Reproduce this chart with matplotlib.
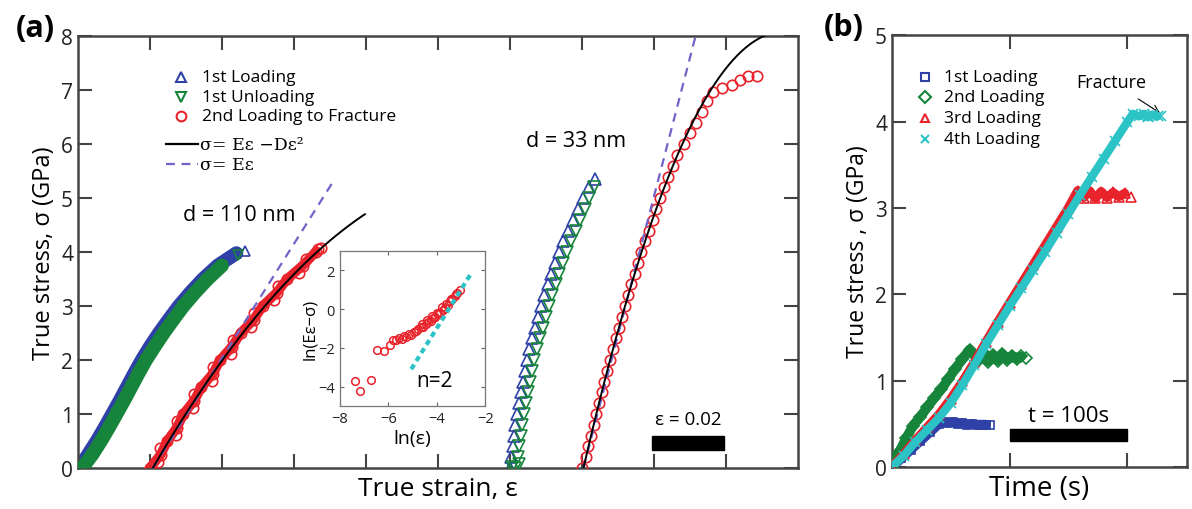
import matplotlib
matplotlib.use("Agg")
import matplotlib.pyplot as plt
import numpy as np
from matplotlib.patches import Rectangle

plt.rcParams['font.family'] = ['Open Sans', 'DejaVu Sans']

# ---------------- panel (a): stress-strain data ----------------
# d = 110 nm
blue110_strain = [0.0004, 0.0028, 0.0052, 0.0074, 0.0095, 0.0116, 0.0136, 0.0156, 0.0177,
                  0.0200, 0.0225, 0.0252, 0.0280, 0.0312, 0.0347, 0.0388, 0.0440, 0.0465]
blue110_stress = [0.0, 0.25, 0.5, 0.75, 1.0, 1.25, 1.5, 1.75, 2.0,
                  2.25, 2.5, 2.75, 3.0, 3.25, 3.5, 3.75, 3.98, 4.02]
green110_strain = [0.0012, 0.0040, 0.0064, 0.0086, 0.0107, 0.0128, 0.0148, 0.0168, 0.0189,
                   0.0213, 0.0238, 0.0265, 0.0293, 0.0325, 0.0360, 0.0400, 0.0445]
green110_stress = [0.0, 0.25, 0.5, 0.75, 1.0, 1.25, 1.5, 1.75, 2.0,
                   2.25, 2.5, 2.75, 3.0, 3.25, 3.5, 3.75, 3.95]
red110_strain = [0.0200, 0.0230, 0.0248, 0.0275, 0.0293, 0.0323, 0.0343, 0.0375, 0.0395,
                 0.0428, 0.0452, 0.0488, 0.0513, 0.0552, 0.0581, 0.0624, 0.0660, 0.0675,
                 0.0223, 0.0229, 0.0273, 0.0274, 0.0320, 0.0323, 0.0371, 0.0375, 0.0424,
                 0.0430, 0.0482, 0.0490, 0.0544, 0.0556, 0.0614, 0.0632, 0.0668]
red110_stress = [0.0, 0.25, 0.5, 0.75, 1.0, 1.25, 1.5, 1.75, 2.0,
                 2.25, 2.5, 2.75, 3.0, 3.25, 3.5, 3.75, 4.0, 4.08,
                 0.12, 0.37, 0.62, 0.87, 1.12, 1.37, 1.62, 1.87, 2.12,
                 2.37, 2.62, 2.87, 3.12, 3.37, 3.62, 3.87, 4.05]

# d = 33 nm
blue33_strain = [0.1200, 0.1204, 0.1208, 0.1211, 0.1215, 0.1219, 0.1224, 0.1230, 0.1235, 0.1241,
                 0.1247, 0.1254, 0.1262, 0.1270, 0.1278, 0.1286, 0.1295, 0.1305, 0.1315, 0.1325,
                 0.1336, 0.1348, 0.1361, 0.1374, 0.1388, 0.1403, 0.1420, 0.1436]
blue33_stress = [0.0, 0.2, 0.4, 0.6, 0.8, 1.0, 1.2, 1.4, 1.6, 1.8,
                 2.0, 2.2, 2.4, 2.6, 2.8, 3.0, 3.2, 3.4, 3.6, 3.8,
                 4.0, 4.2, 4.4, 4.6, 4.8, 5.0, 5.2, 5.35]
green33_strain = [0.1205, 0.1215, 0.1225, 0.1222, 0.1226, 0.1230, 0.1234, 0.1239, 0.1244, 0.1249,
                  0.1255, 0.1261, 0.1268, 0.1275, 0.1283, 0.1291, 0.1299, 0.1308, 0.1317, 0.1327,
                  0.1337, 0.1347, 0.1358, 0.1370, 0.1382, 0.1395, 0.1408, 0.1420, 0.1432]
green33_stress = [0.02, 0.0, 0.08, 0.2, 0.4, 0.6, 0.8, 1.0, 1.2, 1.4,
                  1.6, 1.8, 2.0, 2.2, 2.4, 2.6, 2.8, 3.0, 3.2, 3.4,
                  3.6, 3.8, 4.0, 4.2, 4.4, 4.6, 4.8, 5.0, 5.2]
red33_strain = [0.1400, 0.1411, 0.1418, 0.1425, 0.1432, 0.1440, 0.1447, 0.1455, 0.1462, 0.1470,
                0.1478, 0.1486, 0.1494, 0.1502, 0.1511, 0.1519, 0.1528, 0.1537, 0.1546, 0.1556,
                0.1565, 0.1575, 0.1585, 0.1596, 0.1606, 0.1617, 0.1629, 0.1640, 0.1652, 0.1665,
                0.1683, 0.1700, 0.1716, 0.1732, 0.1748, 0.1764, 0.1789, 0.1817, 0.1839, 0.1861, 0.1886]
red33_stress = [0.0, 0.2, 0.4, 0.6, 0.8, 1.0, 1.2, 1.4, 1.6, 1.8,
                2.0, 2.2, 2.4, 2.6, 2.8, 3.0, 3.2, 3.4, 3.6, 3.8,
                4.0, 4.2, 4.4, 4.6, 4.8, 5.0, 5.2, 5.4, 5.6, 5.8,
                6.0, 6.2, 6.4, 6.6, 6.8, 6.96, 7.04, 7.09, 7.18, 7.27, 7.27]

# fit parameters (sigma = E*eps - D*eps^2, sigma = E*eps) per wire
E_fit110, D_fit110, E_lin110, eps0_110 = 115.0, 597.0, 106.0, 0.0208
E_fit33, D_fit33, E_lin33, eps0_33 = 290.0, 2600.0, 257.0, 0.1404

# inset: ln(E eps - sigma) vs ln(eps)
inset_lnstrain = [-7.38, -7.17, -6.73, -6.46, -6.17, -5.93, -5.80, -5.66, -5.55, -5.45,
                  -5.35, -5.25, -5.15, -5.05, -4.95, -4.85, -4.75, -4.65, -4.55, -4.45,
                  -4.35, -4.25, -4.15, -4.05, -3.95, -3.85, -3.75, -3.65, -3.55, -3.45,
                  -3.35, -3.25, -3.15, -3.05, -4.6, -4.4, -4.2, -4.0, -3.8, -3.6, -3.4, -3.2]
inset_lnres = [-3.71, -4.22, -3.66, -2.13, -2.18, -1.87, -1.60, -1.62, -1.50, -1.53,
               -1.40, -1.45, -1.30, -1.35, -1.18, -1.15, -1.05, -0.95, -0.90, -0.78,
               -0.68, -0.62, -0.48, -0.40, -0.25, -0.18, -0.05, 0.08, 0.22, 0.40,
               0.52, 0.66, 0.82, 1.00, -0.75, -0.55, -0.35, -0.20, 0.10, 0.25, 0.50, 0.80]
slope_line_x = [-5.05, -2.6]
slope_line_y = [-3.1, 1.8]

# ---------------- panel (b): stress vs time ----------------
t1 = [0, 8, 16, 24, 32, 40, 44, 48, 52, 56, 60, 64, 68, 72, 76, 80, 83]
s1 = [0.0, 0.10, 0.20, 0.30, 0.40, 0.50, 0.52, 0.51, 0.52, 0.50, 0.51, 0.49, 0.50, 0.49, 0.49, 0.49, 0.49]
t2 = [0, 6, 12, 18, 24, 30, 36, 42, 48, 54, 60, 66, 70, 74, 78, 82, 86, 90, 94, 98, 102, 106, 110, 114]
s2 = [0.0, 0.17, 0.33, 0.48, 0.58, 0.69, 0.80, 0.90, 1.02, 1.14, 1.25, 1.36, 1.30, 1.24, 1.32, 1.22,
      1.30, 1.23, 1.31, 1.24, 1.29, 1.25, 1.28, 1.26]
t3 = [0, 10, 20, 30, 40, 50, 60, 70, 80, 90, 100, 110, 120, 130, 140, 150, 158, 163, 168, 173,
      178, 183, 188, 193, 198, 203]
s3 = [0.0, 0.15, 0.31, 0.46, 0.61, 0.79, 0.99, 1.21, 1.45, 1.68, 1.90, 2.12, 2.34, 2.56, 2.78, 3.00,
      3.20, 3.12, 3.20, 3.11, 3.19, 3.12, 3.18, 3.13, 3.17, 3.13]
t4 = [0, 10, 20, 30, 40, 50, 60, 70, 80, 90, 100, 110, 120, 130, 140, 150, 160, 170, 180, 190,
      200, 205, 210, 214, 218, 222, 226, 229]
s4 = [0.0, 0.13, 0.29, 0.43, 0.57, 0.74, 0.95, 1.18, 1.42, 1.64, 1.86, 2.07, 2.28, 2.49, 2.71, 2.93,
      3.15, 3.36, 3.57, 3.78, 3.99, 4.09, 4.06, 4.09, 4.05, 4.08, 4.06, 4.06]

BLUE, GREEN, RED, CYAN = '#2f40a6', '#16843a', '#e8232b', '#2bc3c6'
PURPLE = '#7263c9'
FRAME = '#444444'


def band(ax, x, y, color, marker, lw, ms, z, thick=True, n_line=None):
    # dense data: thick line underneath + open markers on top
    if thick:
        n = n_line if n_line else len(x) - 1
        ax.plot(x[:n], y[:n], color=color, lw=lw, solid_capstyle='round',
                solid_joinstyle='round', zorder=z)
    ax.plot(x, y, ls='none', marker=marker, mfc='none', mec=color, ms=ms, mew=1.2, zorder=z + 0.1)


fig = plt.figure(figsize=(11.92, 5.10), dpi=100)
axa = fig.add_axes([0.0654, 0.0804, 0.6041, 0.8466])
axb = fig.add_axes([0.7483, 0.0824, 0.2475, 0.8466])

# ---- (a) main ----
band(axa, blue110_strain, blue110_stress, BLUE, '^', 10, 6.5, 2)
band(axa, green110_strain, green110_stress, GREEN, 'v', 10, 6.5, 3)
band(axa, red110_strain, red110_stress, RED, 'o', 7, 7.5, 4, n_line=17)
band(axa, blue33_strain, blue33_stress, BLUE, '^', 0, 8, 2, thick=False)
band(axa, green33_strain, green33_stress, GREEN, 'v', 0, 8, 3, thick=False)
band(axa, red33_strain, red33_stress, RED, 'o', 0, 7.5, 4, thick=False)

de = np.linspace(0, 0.0589, 100)
axa.plot(eps0_110 + de, E_fit110 * de - D_fit110 * de ** 2, color='k', lw=1.4, zorder=6)
de = np.linspace(0, 0.0506, 2)
axa.plot(eps0_110 + de, E_lin110 * de, color=PURPLE, lw=1.6, ls=(0, (4, 3)), zorder=5)
de = np.linspace(0, 0.06, 200)
axa.plot(eps0_33 + de, E_fit33 * de - D_fit33 * de ** 2, color='k', lw=1.4, zorder=6)
de = np.linspace(0, 8.0 / E_lin33, 2)
axa.plot(eps0_33 + de, E_lin33 * de, color=PURPLE, lw=1.6, ls=(0, (4, 3)), zorder=5)

axa.set_xlim(0, 0.2)
axa.set_ylim(0, 8)
axa.set_xticks(np.arange(0.02, 0.19, 0.02))
axa.set_yticks(range(0, 9))
axa.tick_params(direction='in', top=True, right=True, length=10, width=1.5,
                labelsize=15, labelbottom=False, colors=FRAME, labelcolor='#222222')
for sp in axa.spines.values():
    sp.set_linewidth(1.8)
    sp.set_color(FRAME)
axa.set_ylabel('True stress, σ (GPa)', fontsize=17, labelpad=4)
axa.set_xlabel('True strain, ε', fontsize=19, labelpad=6)

axa.text(0.0447, 4.70, 'd = 110 nm', fontsize=15.5, ha='center', va='center')
axa.text(0.1383, 6.06, 'd = 33 nm', fontsize=15.5, ha='center', va='center')

# scale bar
bar_eps = 0.02
axa.add_patch(Rectangle((0.1594, 0.33), bar_eps, 0.26, color='k', zorder=7))
axa.text(0.1594 + bar_eps / 2, 0.9, 'ε = 0.02', fontsize=13.5, ha='center', va='center')

# legend (a)
def px_a(px, py):
    return (px - 78) / 720, (469 - py) / 432

for (mk, col, lab, py) in [('^', BLUE, '1st Loading', 78), ('v', GREEN, '1st Unloading', 98),
                           ('o', RED, '2nd Loading to Fracture', 117)]:
    mx, my = px_a(181, py)
    axa.plot([mx], [my], marker=mk, mfc='none', mec=col, ms=7, mew=1.5, transform=axa.transAxes)
    tx, _ = px_a(202, py)
    axa.text(tx, my, lab, fontsize=12.5, va='center', transform=axa.transAxes)
for (ls, col, lab, py) in [('-', 'k', 'σ= Eε −Dε²', 145), ((0, (4, 3)), PURPLE, 'σ= Eε', 165)]:
    x0, my = px_a(166, py)
    x1, _ = px_a(198, py)
    axa.plot([x0, x1], [my, my], ls=ls, color=col, lw=1.6, transform=axa.transAxes)
    tx, _ = px_a(200, py)
    axa.text(tx, my, lab, fontsize=12.5, va='center', family=['DejaVu Serif'],
             transform=axa.transAxes)

axa.text(-0.087, 1.02, '(a)', transform=axa.transAxes, fontsize=22, fontweight='bold',
         ha='left', va='center')

# ---- (a) inset ----
ins = fig.add_axes([0.285, 0.202, 0.122, 0.304])
ins.set_zorder(10)
ins.plot(inset_lnstrain, inset_lnres, ls='none', marker='o', mfc='none', mec=RED, ms=5.5, mew=1.1)
ins.plot(slope_line_x, slope_line_y, color=CYAN, lw=3, ls=(0, (1.3, 1.0)))
ins.set_xlim(-8, -2)
ins.set_ylim(-5, 3)
ins.set_xticks([-8, -6, -4, -2])
ins.set_yticks([-4, -2, 0, 2])
ins.tick_params(direction='in', top=True, right=True, length=3, width=0.8, labelsize=10.5,
                colors='#666666', labelcolor='#222222')
for sp in ins.spines.values():
    sp.set_linewidth(0.9)
    sp.set_color('#777777')
ins.set_xlabel('ln(ε)', fontsize=14, labelpad=2)
ins.set_ylabel('ln(Eε−σ)', fontsize=12, labelpad=0)
ins.text(-4.07, -3.7, 'n=2', fontsize=15, ha='center', va='center')

# ---- (b) ----
band(axb, t1, s1, BLUE, 's', 7, 6, 2)
band(axb, t2, s2, GREEN, 'D', 7, 6.5, 3)
band(axb, t3, s3, RED, '^', 6.5, 7, 4)
band(axb, t4, s4, CYAN, 'x', 6, 6.5, 5)

axb.set_xlim(0, 251)
axb.set_ylim(0, 5)
axb.set_xticks([100, 200])
axb.set_yticks(range(0, 6))
axb.tick_params(direction='in', top=True, right=True, length=10, width=1.5,
                labelsize=15, labelbottom=False, colors=FRAME, labelcolor='#222222')
for sp in axb.spines.values():
    sp.set_linewidth(1.8)
    sp.set_color(FRAME)
axb.set_ylabel('True stress , σ (GPa)', fontsize=16.5, labelpad=4)
axb.set_xlabel('Time (s)', fontsize=20, labelpad=5)

bar_t = 100
axb.add_patch(Rectangle((100, 0.30), bar_t, 0.14, color='k', zorder=7))
axb.text(100 + bar_t / 2, 0.60, 't = 100s', fontsize=16, ha='center', va='center')

axb.annotate('Fracture', xy=(228, 4.1), xytext=(187, 4.46), fontsize=13, ha='center',
             va='center', arrowprops=dict(arrowstyle='->', color='k', lw=0.8,
                                          shrinkA=7, shrinkB=0))


def px_b(px, py):
    return (px - 892) / 295, (468 - py) / 432


for (mk, col, lab, py) in [('s', BLUE, '1st Loading', 78), ('D', GREEN, '2nd Loading', 98),
                           ('^', RED, '3rd Loading', 119), ('x', CYAN, '4th Loading', 140)]:
    mx, my = px_b(925, py)
    axb.plot([mx], [my], marker=mk, mfc='none', mec=col, ms=6, mew=1.5, transform=axb.transAxes)
    tx, _ = px_b(944, py)
    axb.text(tx, my, lab, fontsize=12.5, va='center', transform=axb.transAxes)

axb.text(-0.23, 1.02, '(b)', transform=axb.transAxes, fontsize=22, fontweight='bold',
         ha='left', va='center')

fig.savefig('out.png', dpi=100)
